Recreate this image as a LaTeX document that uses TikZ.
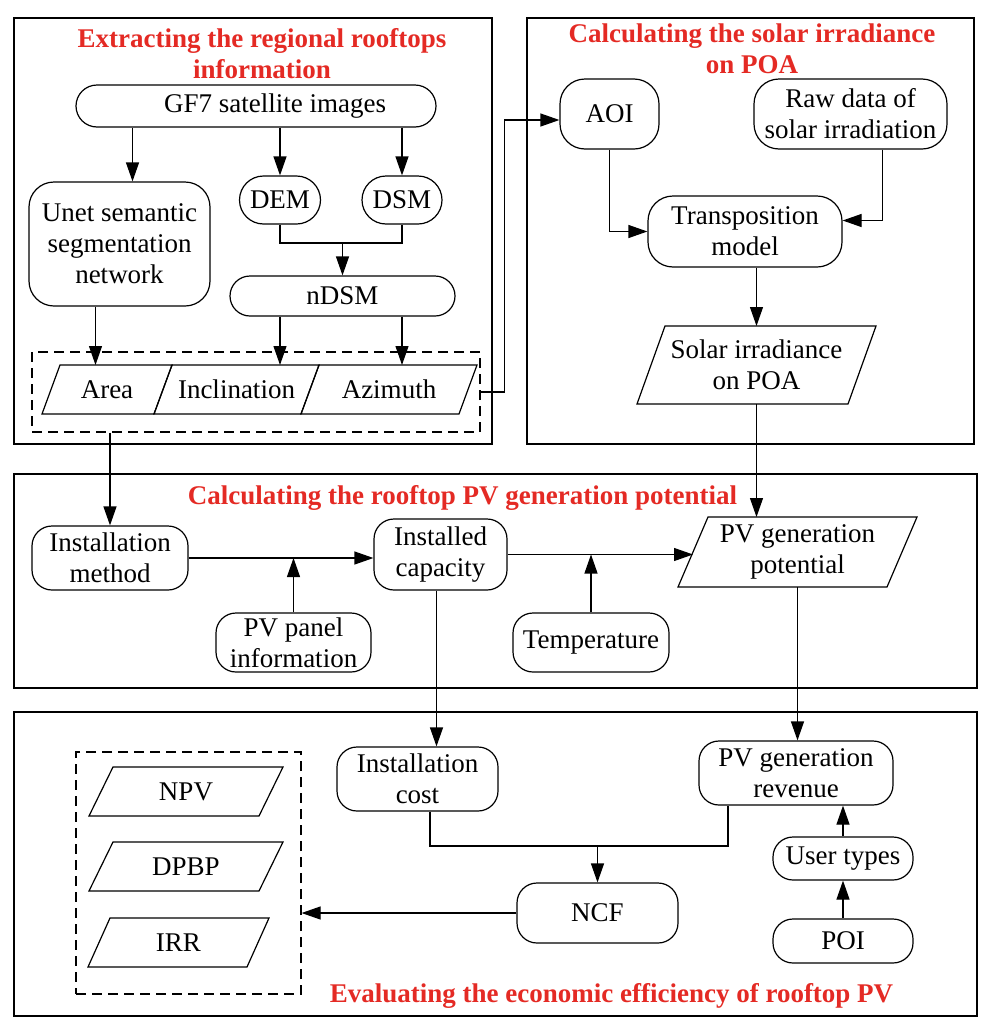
\documentclass[tikz,border=0pt]{standalone}
\usepackage{fontspec}
\setmainfont{Liberation Serif}
\usetikzlibrary{arrows.meta}
\definecolor{titlered}{RGB}{228,42,36}
\tikzset{every picture/.style={line width=1.2pt}}
\tikzset{
  rbox/.style={draw, rounded corners=20pt, inner sep=2pt, align=center, font=\fontsize{27}{31}\selectfont},
  pgram/.style={inner sep=2pt, outer sep=0pt, align=center, font=\fontsize{27}{31}\selectfont},
  dashbox/.style={draw, dash pattern=on 10pt off 6pt, inner sep=0pt},
  stagetitle/.style={text=titlered, font=\bfseries\fontsize{27}{31}\selectfont, align=center, inner sep=0pt},
  arr/.style={-{Triangle[length=19pt,width=13pt]}},
}
% slanted outline round a pgram node: #1 node name, #2 slant
\newcommand{\slantbox}[2]{\draw ([xshift=#2]#1.north west) -- (#1.north east) -- ([xshift=-#2]#1.south east) -- (#1.south west) -- cycle;}

\begin{document}
\begin{tikzpicture}[x=1pt,y=1pt,yscale=-1,xscale=1]
	\useasboundingbox (0,0) rectangle (993,1031);
	
	%Shape: Rectangle [stage 1] 
	\draw (14,18) rectangle (492,444);
	% Text Node
	\node[stagetitle] (t1) at (262,53.5) {Extracting the regional rooftops\\information};
	%Rounded Rect 
	\node[rbox, minimum width=360pt, minimum height=42pt, rounded corners=21pt] (gf7) at (256,106) {\hspace*{38pt}GF7 satellite images};
	\node[rbox, minimum width=181pt, minimum height=124pt, rounded corners=25pt] (unet) at (119.5,244) {Unet semantic\\segmentation\\network};
	\node[rbox, minimum width=81pt, minimum height=48pt, rounded corners=24pt] (dem) at (280,200) {DEM};
	\node[rbox, minimum width=80pt, minimum height=48pt, rounded corners=24pt] (dsm) at (402,200) {DSM};
	\node[rbox, minimum width=225pt, minimum height=40pt] (ndsm) at (342.5,296) {nDSM};
	%Shape: Dashed box 
	\node[dashbox, minimum width=448pt, minimum height=80pt] (roof) at (256,392) {};
	%Parallelograms 
	\node[pgram, minimum width=130pt, minimum height=49pt] (area) at (107,389.5) {Area};
	\node[pgram, minimum width=165pt, minimum height=49pt] (incl) at (236.5,389.5) {Inclination};
	\node[pgram, minimum width=176pt, minimum height=49pt] (azim) at (389,389.5) {Azimuth};
	\slantbox{area}{18pt}
	\slantbox{incl}{18pt}
	\slantbox{azim}{18pt}
	%Straight Lines 
	\draw[arr] ([xshift=13pt]unet.north |- gf7.south) -- ([xshift=13pt]unet.north);
	\draw[arr] (gf7.south -| dem.north) -- (dem.north);
	\draw[arr] (gf7.south -| dsm.north) -- (dsm.north);
	\coordinate (demjoin) at (342.5,243);
	\draw (dem.south) |- (demjoin) -| (dsm.south);
	\draw[arr] (demjoin) -- (ndsm.north);
	\draw[arr] ([xshift=-24pt]unet.south) -- ([xshift=-24pt]unet.south |- area.north);
	\draw[arr] (ndsm.south -| dem.south) -- (incl.north -| dem.south);
	\draw[arr] (ndsm.south -| dsm.south) -- (azim.north -| dsm.south);
	
	%Shape: Rectangle [stage 2] 
	\draw (527,18) rectangle (974,444);
	% Text Node
	\node[stagetitle] (t2) at (752,49) {Calculating the solar irradiance\\on POA};
	\node[rbox, minimum width=99pt, minimum height=70pt, rounded corners=25pt] (aoi) at (609.5,114) {AOI};
	\node[rbox, minimum width=193pt, minimum height=70pt, rounded corners=25pt] (raw) at (850.5,114) {Raw data of\\solar irradiation};
	\node[rbox, minimum width=194pt, minimum height=71pt, rounded corners=25pt] (trans) at (745,231.5) {Transposition\\model};
	\node[pgram, minimum width=239pt, minimum height=78pt] (solar) at (756.5,365) {Solar irradiance\\on POA};
	\slantbox{solar}{28pt}
	%Straight Lines 
	\draw[arr] (roof.east) -- ++(24,0) |- ([yshift=6pt]aoi.west);
	\draw[arr] (aoi.south) |- (trans.west);
	\draw[arr] ([xshift=32pt]raw.south) |- ([yshift=-11pt]trans.east);
	\draw[arr] (trans.south -| solar.north) -- (solar.north);
	
	%Shape: Rectangle [stage 3] 
	\draw (14,474) rectangle (977,688);
	% Text Node
	\node[stagetitle] (t3) at (462.5,498) {Calculating the rooftop PV generation potential};
	\node[rbox, minimum width=156pt, minimum height=64pt] (inst) at (110,558) {Installation\\method};
	\node[rbox, minimum width=133pt, minimum height=71pt] (cap) at (440.5,554.5) {Installed\\capacity};
	\node[rbox, minimum width=155pt, minimum height=59pt] (panel) at (293.5,642.5) {PV panel\\information};
	\node[rbox, minimum width=156pt, minimum height=59pt] (temp) at (591,642.5) {Temperature};
	\node[pgram, minimum width=239pt, minimum height=70pt] (pvpot) at (797.5,552) {PV generation\\potential};
	\slantbox{pvpot}{30pt}
	%Straight Lines 
	\draw[arr] (roof.south -| inst.north) -- (inst.north);
	\draw[arr] (solar.south) -- (solar.south |- pvpot.north);
	\draw[arr] (inst.east) -- (inst.east -| cap.west);
	\draw[arr] (panel.north) -- (panel.north |- inst.east);
	\draw[arr] (cap.east) -- ([xshift=15pt]pvpot.west |- cap.east);
	\draw[arr] (temp.north) -- (temp.north |- cap.east);
	
	%Shape: Rectangle [stage 4] 
	\draw (14,712) rectangle (977,1016);
	% Text Node
	\node[stagetitle] (t4) at (611.5,996) {Evaluating the economic efficiency of rooftop PV};
	\node[dashbox, minimum width=225pt, minimum height=242pt] (result) at (188.5,873) {};
	\node[pgram, minimum width=194pt, minimum height=49pt] (npv) at (186,791.5) {NPV};
	\node[pgram, minimum width=194pt, minimum height=49pt] (dpbp) at (186,866.5) {DPBP};
	\node[pgram, minimum width=181pt, minimum height=49pt] (irr) at (178.5,942.5) {IRR};
	\slantbox{npv}{24pt}
	\slantbox{dpbp}{24pt}
	\slantbox{irr}{22pt}
	\node[rbox, minimum width=161pt, minimum height=64pt] (icost) at (417.5,779) {Installation\\cost};
	\node[rbox, minimum width=194pt, minimum height=64pt] (rev) at (796,773) {PV generation\\revenue};
	\node[rbox, minimum width=161pt, minimum height=60pt] (ncf) at (597.5,913) {NCF};
	\node[rbox, minimum width=140pt, minimum height=43pt] (users) at (843,858.5) {User types};
	\node[rbox, minimum width=140pt, minimum height=44pt] (poi) at (843,941) {POI};
	%Straight Lines 
	\draw[arr] ([xshift=-4pt]cap.south) -- ([xshift=-4pt]cap.south |- icost.north);
	\draw[arr] (pvpot.south) -- (pvpot.south |- rev.north);
	\coordinate (cfjoin) at (597.5,846);
	\draw ([xshift=12.5pt]icost.south) |- (cfjoin) -| ([xshift=-68pt]rev.south);
	\draw[arr] (cfjoin) -- (ncf.north);
	\draw[arr] (ncf.west) -- (ncf.west -| result.east);
	\draw[arr] (poi.north) -- (users.south);
	\draw[arr] (users.north) -- (users.north |- rev.south);
	
\end{tikzpicture}
\end{document}
